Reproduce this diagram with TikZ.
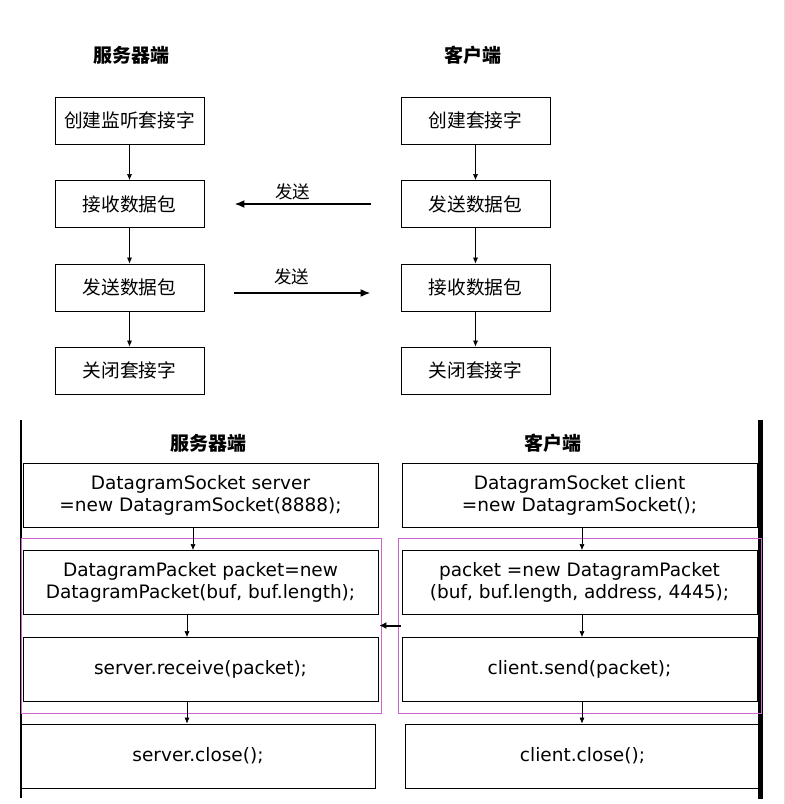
\documentclass[tikz,border=0pt]{standalone}
\usepackage{fontspec}
\setmainfont{DejaVu Sans}
\newfontfamily\cjk{Noto Sans CJK SC}
\usetikzlibrary{positioning, arrows.meta}
\definecolor{grpmagenta}{RGB}{204,102,204}

\begin{document}
\begin{tikzpicture}[x=1pt, y=-1pt,
		stepbox/.style={draw, line width=0.8pt, minimum width=149pt, minimum height=47pt, inner sep=0pt, font=\cjk\fontsize{18.7}{20}\selectfont},
		codebox/.style={draw, line width=0.8pt, minimum width=355pt, minimum height=64pt, inner sep=0pt, align=center, font=\fontsize{18.5}{22}\selectfont},
		sidetitle/.style={font=\cjk\bfseries\fontsize{19}{20}\selectfont},
		sendlabel/.style={font=\cjk\fontsize{17.5}{20}\selectfont, inner sep=0pt},
		flow/.style={-{Latex[length=6pt,width=5pt]}, line width=0.6pt},
		send/.style={-{Latex[length=10pt,width=8pt]}, line width=2.6pt},
		grpbox/.style={draw=grpmagenta, line width=0.8pt, minimum height=175pt, inner sep=0pt}]
			\useasboundingbox (0,0) rectangle (785,804);
			\draw[gray!25] (784,0) -- (784,804);
			
			% socket steps
			\node[sidetitle] (stitle) at (131,55) {服务器端};
			\node[sidetitle] (ctitle) at (473,55) {客户端};
			
			\node[stepbox] (s1) at (129.5,120.5) {创建监听套接字};
			\node[stepbox] (s2) at (129.5,204) {接收数据包};
			\node[stepbox] (s3) at (129.5,287.5) {发送数据包};
			\node[stepbox] (s4) at (129.5,370.5) {关闭套接字};
			
			\node[stepbox] (c1) at (475.5,120.5) {创建套接字};
			\node[stepbox] (c2) at (475.5,204) {发送数据包};
			\node[stepbox] (c3) at (475.5,287.5) {接收数据包};
			\node[stepbox] (c4) at (475.5,370.5) {关闭套接字};
			
			\foreach \a/\b in {s1/s2, s2/s3, s3/s4, c1/c2, c2/c3, c3/c4}
				\draw[flow] (\a) -- (\b);
			
			\draw[send] ([xshift=-30pt]c2.west) -- node[sendlabel, pos=0.57, above=3pt] (l1) {发送} ([xshift=30pt]s2.east);
			\draw[send] ([xshift=30pt, yshift=-5.5pt]s3.east) -- node[sendlabel, pos=0.42, above=7pt] (l2) {发送} ([xshift=-30pt, yshift=-5.5pt]c3.west);
			
			% java code
			\draw[line width=1.5pt] (21,420) -- (21,798);
			\draw[line width=5pt] (760.5,420) -- (760.5,799);
			
			\node[sidetitle] (stitle2) at (208,443) {服务器端};
			\node[sidetitle] (ctitle2) at (553,443) {客户端};
			
			\node[grpbox, minimum width=360pt] (sgrp) at (201,625.5) {};
			\node[grpbox, minimum width=363pt] (cgrp) at (579.5,625.5) {};
			
			\node[codebox] (sA) at (200.5,495) {DatagramSocket server\\=new DatagramSocket(8888);};
			\node[codebox] (sB) at (200.5,582.5) {DatagramPacket packet=new\\DatagramPacket(buf, buf.length);};
			\node[codebox] (sC) at (200.5,669.5) {server.receive(packet);};
			\node[codebox, minimum width=354pt] (sD) at (198,756) {server.close();};
			
			\node[codebox] (cA) at (579.5,495) {DatagramSocket client\\=new DatagramSocket();};
			\node[codebox] (cB) at (579.5,582.5) {packet =new DatagramPacket\\(buf, buf.length, address, 4445);};
			\node[codebox] (cC) at (579.5,669.5) {client.send(packet);};
			\node[codebox] (cD) at (582.5,756) {client.close();};
			
			\foreach \a/\b/\d/\e in {sA/sB/-7.5/-7.5, sB/sC/-13.5/-13.5, sC/sD/-13.5/-11, cA/cB/2.5/2.5, cB/cC/2.5/2.5, cC/cD/2.5/-0.5}
				\draw[flow] ([xshift=\d pt]\a.south) -- ([xshift=\e pt]\b.north);
			
			\draw[-{Latex[length=7pt,width=7pt]}, line width=2pt] ([xshift=3pt]cgrp.west) -- ([xshift=-2pt]sgrp.east);
		\end{tikzpicture}
\end{document}
